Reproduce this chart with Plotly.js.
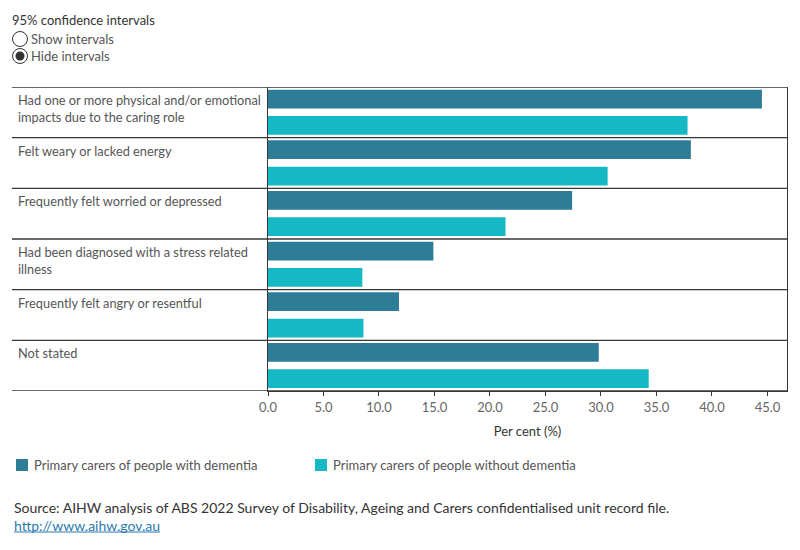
<!DOCTYPE html>
<html>
<head>
<meta charset="utf-8">
<script src="https://cdn.plot.ly/plotly-3.0.1.min.js"></script>
<style>
  html, body { margin: 0; padding: 0; background: #fff; }
  #chart { width: 800px; height: 550px; }
</style>
</head>
<body>
<div id="chart"></div>
<script>
// Impacts of caring on primary carers, by dementia status of the person cared for
const categories = [
  'Had one or more physical and/or emotional<br>impacts due to the caring role',
  'Felt weary or lacked energy',
  'Frequently felt worried or depressed',
  'Had been diagnosed with a stress related<br>illness',
  'Frequently felt angry or resentful',
  'Not stated'
];
const withDementia = [44.5, 38.1, 27.4, 14.9, 11.8, 29.8];
const withoutDementia = [37.8, 30.6, 21.4, 8.5, 8.6, 34.3];
const seriesNames = ['Primary carers of people with dementia', 'Primary carers of people without dementia'];
const tickValues = [0, 5, 10, 15, 20, 25, 30, 35, 40, 45];

const W = 800, H = 550;
const M = { l: 268, r: 13, t: 87, b: 159, autoexpand: false };
const PW = W - M.l - M.r, PH = H - M.t - M.b;
const fx = px => (px - M.l) / PW;
const fy = py => (H - M.b - py) / PH;

const FONT = 'Lato, "Open Sans", sans-serif';
const DARK = '#2d7d97';
const LIGHT = '#15b8c5';
const COLORS = [DARK, LIGHT];
const LINE = '#363636';

const rowKeys = categories.map((c, i) => i);

const traces = [
  {
    type: 'bar', orientation: 'h', name: seriesNames[0],
    y: rowKeys, x: withDementia,
    offset: -0.447, width: 0.37,
    marker: { color: DARK }, hoverinfo: 'x'
  },
  {
    type: 'bar', orientation: 'h', name: seriesNames[1],
    y: rowKeys, x: withoutDementia,
    offset: 0.073, width: 0.37,
    marker: { color: LIGHT }, hoverinfo: 'x'
  }
];

const shapes = [];
// row separators running under the category labels
for (let i = 0; i <= categories.length; i++) {
  shapes.push({
    type: 'line', xref: 'paper', yref: 'y',
    x0: fx(12), x1: 1, y0: i - 0.5, y1: i - 0.5,
    line: { color: LINE, width: 1.3 }
  });
}

// radio buttons of the interval toggle
shapes.push({
  type: 'circle', xref: 'paper', yref: 'paper',
  x0: fx(12.5), x1: fx(27.5), y0: fy(31.5), y1: fy(46.5),
  line: { color: '#333', width: 1 }, fillcolor: '#fff'
});
shapes.push({
  type: 'circle', xref: 'paper', yref: 'paper',
  x0: fx(12.5), x1: fx(27.5), y0: fy(48.5), y1: fy(63.5),
  line: { color: '#333', width: 1 }, fillcolor: '#fff'
});
shapes.push({
  type: 'circle', xref: 'paper', yref: 'paper',
  x0: fx(15.5), x1: fx(24.5), y0: fy(51.5), y1: fy(60.5),
  line: { color: '#333', width: 0 }, fillcolor: '#333'
});

const annotations = categories.map((c, i) => ({
  xref: 'paper', yref: 'y', x: fx(16), y: i - 0.5,
  xanchor: 'left', yanchor: 'top', yshift: -3, align: 'left',
  text: c, showarrow: false,
  font: { family: FONT, size: 12.8, color: '#555' }
}));

// legend keys
const legendX = [16, 315];
seriesNames.forEach((n, k) => {
  shapes.push({
    type: 'rect', xref: 'paper', yref: 'paper',
    x0: fx(legendX[k]), x1: fx(legendX[k] + 12), y0: fy(459), y1: fy(471),
    line: { width: 0 }, fillcolor: COLORS[k]
  });
  annotations.push({
    xref: 'paper', yref: 'paper', x: fx(legendX[k] + 16), y: fy(465),
    xanchor: 'left', yanchor: 'middle', showarrow: false,
    text: n, font: { family: FONT, size: 13, color: '#555' }
  });
});

const textBits = [
  { t: '95% confidence intervals', x: 10, y: 20, c: '#333', s: 13 },
  { t: 'Show intervals', x: 29, y: 39, c: '#555', s: 13 },
  { t: 'Hide intervals', x: 29, y: 56, c: '#555', s: 13 },
  { t: 'Source: AIHW analysis of ABS 2022 Survey of Disability, Ageing and Carers confidentialised unit record file.', x: 12, y: 507, c: '#333', s: 14 },
  { t: '<a href="http://www.aihw.gov.au" style="color:#2a7ab0">http://www.aihw.gov.au</a>', x: 12, y: 525, c: '#2a7ab0', s: 14 }
];
textBits.forEach(b => annotations.push({
  xref: 'paper', yref: 'paper', x: fx(b.x), y: fy(b.y),
  xanchor: 'left', yanchor: 'middle', showarrow: false, align: 'left',
  text: b.t, font: { family: FONT, size: b.s, color: b.c }
}));
// underline for the link
shapes.push({
  type: 'line', xref: 'paper', yref: 'paper',
  x0: fx(14), x1: fx(160), y0: fy(532), y1: fy(532),
  line: { color: '#2a7ab0', width: 1 }
});

const layout = {
  width: W, height: H,
  margin: M,
  paper_bgcolor: '#fff', plot_bgcolor: '#fff',
  font: { family: FONT, size: 12, color: '#555' },
  barmode: 'overlay',
  showlegend: false,
  xaxis: {
    range: [0, 46.76], tickvals: tickValues, tickformat: '.1f',
    showgrid: false, zeroline: false,
    showline: true, linecolor: LINE, linewidth: 1.3,
    ticks: 'outside', ticklen: 4, tickcolor: LINE, tickwidth: 1,
    tickfont: { family: FONT, size: 13, color: '#666' },
    title: { text: 'Per cent (%)', font: { family: FONT, size: 13, color: '#333' }, standoff: 13 },
    fixedrange: true
  },
  yaxis: {
    type: 'linear', range: [categories.length - 0.5, -0.5],
    showticklabels: false, showgrid: false, zeroline: false,
    showline: true, mirror: true, linecolor: LINE, linewidth: 1.3,
    ticks: '', fixedrange: true
  },
  shapes: shapes,
  annotations: annotations
};

Plotly.newPlot('chart', traces, layout, { displayModeBar: false });
</script>
</body>
</html>
